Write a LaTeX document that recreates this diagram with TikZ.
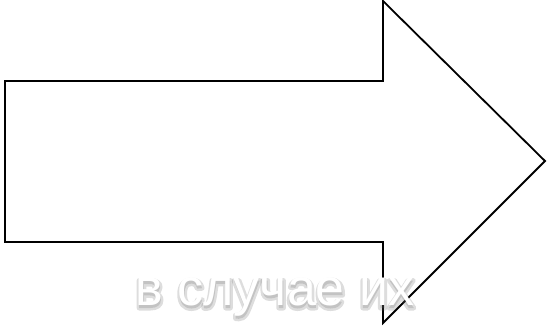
\documentclass[tikz,border=0pt]{standalone}
\usepackage{fontspec}
\setmainfont{Liberation Sans}
\begin{document}
\begin{tikzpicture}[x=1pt,y=-1pt,
  arrowshape/.style={draw=black,line width=1.8pt,line join=miter,fill=white},
  label/.style={font=\fontsize{52}{60}\selectfont,anchor=base,inner sep=0pt}]
\useasboundingbox (0,0) rectangle (547,332);
\draw[arrowshape] (5,81) -- (383,81) -- (383,1) -- (545,161) -- (383,323) -- (383,242) -- (5,242) -- cycle;
\node[label,text=black!60,opacity=0.22] (s) at (275,308) {\special{pdf:literal direct 2 Tr 5 w 1 j}в случае их\special{pdf:literal direct 0 Tr 1 w}};
\node[label,text=white] (t) at (275,305) {в случае их};
\end{tikzpicture}
\end{document}
